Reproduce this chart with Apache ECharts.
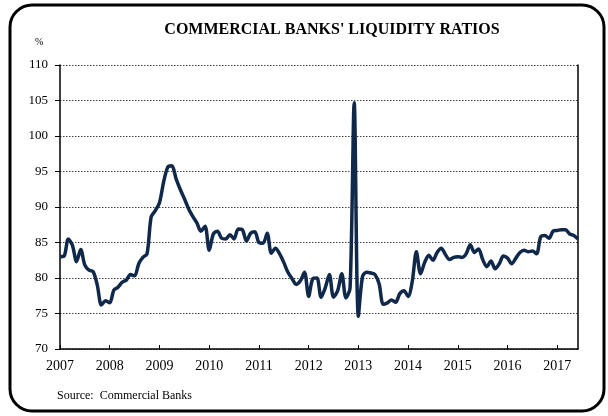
<!DOCTYPE html>
<html>
<head>
<meta charset="utf-8">
<script src="https://cdn.jsdelivr.net/npm/echarts@6/dist/echarts.min.js"></script>
<style>
html,body{margin:0;padding:0;background:#fff;}
#chart{width:608px;height:416px;}
</style>
</head>
<body>
<div id="chart"></div>
<script>
// Monthly liquidity ratios (%), January to December of each year
var years = [2007, 2008, 2009, 2010, 2011, 2012, 2013, 2014, 2015, 2016, 2017];
var v2007 = [83.0, 83.1, 85.5, 84.6, 82.3, 84.0, 81.8, 81.1, 80.9, 79.0, 76.2, 76.8];
var v2008 = [76.5, 78.3, 78.7, 79.4, 79.7, 80.5, 80.3, 82.0, 82.9, 83.4, 88.6, 89.5];
var v2009 = [90.6, 93.5, 95.6, 95.8, 94.0, 92.5, 91.2, 89.8, 88.7, 87.8, 86.6, 87.3];
var v2010 = [83.9, 86.2, 86.6, 85.6, 85.5, 86.1, 85.5, 86.9, 86.8, 85.2, 86.3, 86.5];
var v2011 = [85.0, 84.9, 86.3, 83.5, 84.2, 83.4, 82.2, 80.8, 79.9, 79.1, 79.6, 80.8];
var v2012 = [77.4, 79.9, 80.0, 77.3, 78.6, 80.5, 77.3, 78.2, 80.6, 77.2, 78.6, 104.7];
var v2013 = [74.6, 80.2, 80.8, 80.7, 80.5, 79.2, 76.3, 76.5, 76.9, 76.6, 77.8, 78.2];
var v2014 = [77.4, 79.5, 83.7, 80.6, 82.2, 83.2, 82.5, 83.6, 84.2, 83.3, 82.6, 82.9];
var v2015 = [83.0, 82.9, 83.4, 84.7, 83.6, 84.1, 82.6, 81.6, 82.4, 81.3, 82.0, 83.1];
var v2016 = [82.8, 82.0, 82.8, 83.6, 83.9, 83.7, 83.8, 83.4, 85.8, 86.0, 85.6, 86.6];
var v2017 = [86.7, 86.8, 86.8, 86.2, 86.0, 85.5];
var yTicks = [70, 75, 80, 85, 90, 95, 100, 105, 110];

var yearData = [v2007, v2008, v2009, v2010, v2011, v2012, v2013, v2014, v2015, v2016, v2017];
var categories = [];
var values = [];
yearData.forEach(function (arr, k) {
  arr.forEach(function (v, m) {
    categories.push(years[k] + '-' + (m + 1));
    values.push(v);
  });
});

var serif = '"Liberation Serif", "Times New Roman", serif';
var chart = echarts.init(document.getElementById('chart'), null, {renderer: 'canvas'});
chart.setOption({
  animation: false,
  backgroundColor: '#fff',
  title: {
    text: "COMMERCIAL BANKS' LIQUIDITY RATIOS",
    left: 327, top: 17, textAlign: 'center',
    textStyle: {fontFamily: serif, fontSize: 16, fontWeight: 'bold', color: '#000'}
  },
  graphic: [
    {type: 'rect', shape: {x: 10, y: 5, width: 594, height: 406, r: 22},
     style: {fill: 'none', stroke: '#000', lineWidth: 3}, z: 100},
    {type: 'text', left: 35, top: 37,
     style: {text: '%', font: '10px ' + serif, fill: '#000'}},
    {type: 'text', left: 57, top: 390,
     style: {text: 'Source:  Commercial Banks', font: '12px ' + serif, fill: '#000'}}
  ],
  grid: {left: 60, right: 30, top: 65, bottom: 67, containLabel: false},
  xAxis: {
    type: 'category',
    data: categories,
    boundaryGap: false,
    axisLine: {lineStyle: {color: '#000', width: 1.5}},
    axisTick: {show: true, inside: true, length: 4, lineStyle: {color: '#000'},
      interval: function (i) { return i % 12 === 0; }},
    axisLabel: {
      interval: function (i) { return i % 12 === 0; },
      formatter: function (v) { return v.split('-')[0]; },
      fontFamily: serif, fontSize: 14, color: '#000', margin: 10
    },
    splitLine: {show: false}
  },
  yAxis: [{
    type: 'value', min: yTicks[0], max: yTicks[yTicks.length - 1], interval: 5,
    axisLine: {show: true, lineStyle: {color: '#000', width: 1.5}},
    axisTick: {show: true, length: 5, lineStyle: {color: '#000'}},
    axisLabel: {fontFamily: serif, fontSize: 13, color: '#000', margin: 12},
    splitLine: {show: true, lineStyle: {color: '#444', type: [1.5, 1.5], width: 1}}
  }, {
    type: 'value', min: yTicks[0], max: yTicks[yTicks.length - 1], interval: 5,
    position: 'right',
    axisLine: {show: true, lineStyle: {color: '#000', width: 1.5}},
    axisTick: {show: false}, axisLabel: {show: false}, splitLine: {show: false}
  }],
  series: [{
    type: 'line',
    data: values,
    yAxisIndex: 0,
    smooth: 0.3,
    symbol: 'none',
    lineStyle: {color: '#10294a', width: 3.5},
    z: 5
  }]
});
</script>
</body>
</html>
